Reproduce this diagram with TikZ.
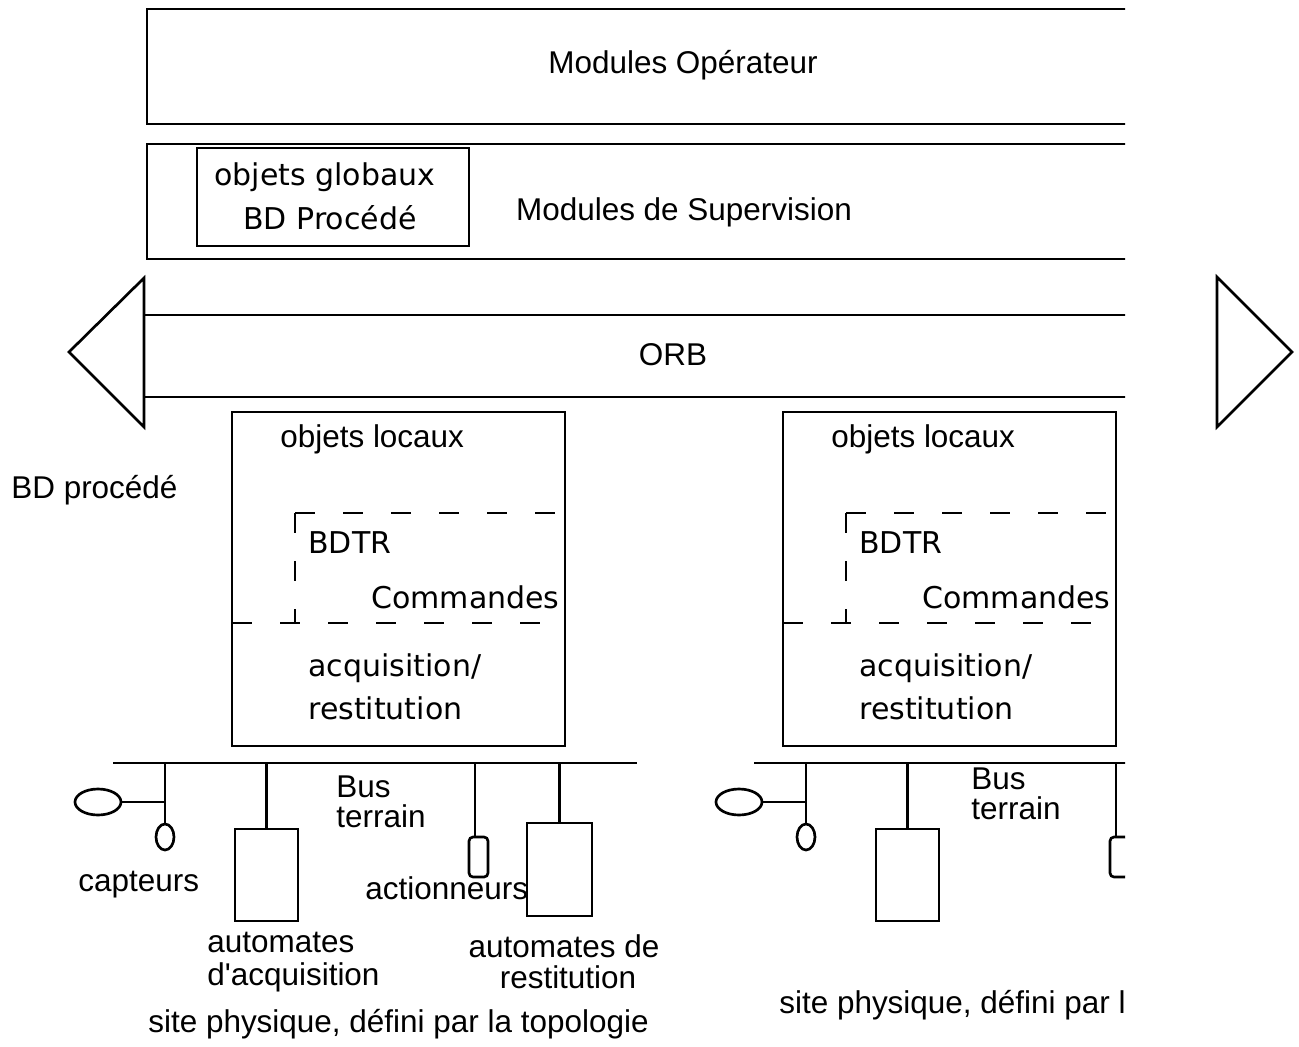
\documentclass[tikz,border=0pt]{standalone}
\usepackage{fontspec}
\setmainfont{Liberation Sans}
\newfontfamily\genfont{DejaVu Sans}
\usetikzlibrary{shapes.geometric}
\begin{document}
\begin{tikzpicture}[x=0.75pt,y=-0.75pt,line width=2pt,
  ar/.style={font=\fontsize{23.6}{28}\selectfont, inner sep=0pt},
  gv/.style={font=\genfont\fontsize{22.5}{28}\selectfont, inner sep=0pt},
  dsh/.style={dash pattern=on 15pt off 21pt},
  sens/.style={draw, ellipse, inner sep=0pt},
  dev/.style={draw, rectangle, inner sep=0pt}]
\useasboundingbox (0,0) rectangle (1299,1046);
\begin{scope}
\clip (0,0) rectangle (1125,1046);
% Modules Operateur
\draw (147,9) rectangle (1140,124);
\node[ar, anchor=base] (op) at (683,73) {Modules Opérateur};
% Supervision
\draw (147,144) rectangle (1140,259);
\draw (197,148) rectangle (469,246);
\node[gv,anchor=base] (og) at (325,185) {objets globaux};
\node[gv,anchor=base] (bdp) at (330,229) {BD Procédé};
\node[ar,anchor=base] (sup) at (684,220) {Modules de Supervision};
% ORB
\draw (144,315) -- (1140,315) (144,397) -- (1140,397);
\draw[line join=miter] (144,278) -- (69,352) -- (144,427) -- cycle;
\node[ar,anchor=base] (orb) at (673,365) {ORB};
% sites
\foreach \n/\bx/\sx/\bu/\by/\tx/\ty in {L/0/0/335/0/147/1032, R/551/641/970/-8/778/1013} {
  \draw (232+\bx,412) rectangle (565+\bx,746);
  \node[ar,anchor=base west] (ol\n) at (279+\bx,447) {objets locaux};
  \coordinate (dc\n) at (295+\bx,513);
  \draw[dsh] (dc\n) -- ++(0,110);
  \draw[dsh] (dc\n) -- ++(260,0);
  \draw[dsh] (232+\bx,623) -- ++(313,0);
  \node[gv,anchor=base west] (bdtr\n) at (307+\bx,553) {BDTR};
  \node[gv,anchor=base west] (cmd\n) at (370+\bx,608) {Commandes};
  \node[gv,anchor=base west] (acq\n) at (307+\bx,676) {acquisition/};
  \node[gv,anchor=base west] (rest\n) at (307+\bx,719) {restitution};
  % bus
  \coordinate (busA\n) at (113+\sx,763);
  \coordinate (busB\n) at (637+\sx,763);
  \draw (busA\n) -- (busB\n);
  \node[ar,anchor=base west] (bus1\n) at (\bu,797+\by) {Bus};
  \node[ar,anchor=base west] (bus2\n) at (\bu,827+\by) {terrain};
  % capteurs
  \node[sens, minimum width=34.5pt, minimum height=19.5pt] (capA\n) at (98+\sx,802) {};
  \node[sens, minimum width=13.5pt, minimum height=19.5pt] (capB\n) at (165+\sx,837) {};
  \coordinate (tc\n) at (165+\sx,763);
  \draw (tc\n) -- (capB\n.north);
  \draw (capA\n.east) -- (capA\n.east -| tc\n);
  % automates d'acquisition
  \node[dev, minimum width=47.25pt, minimum height=69pt] (autA\n) at (266.5+\sx,875) {};
  \draw (autA\n.north) -- (autA\n.north |- tc\n);
  % actionneurs
  \node[dev, rounded corners=3pt, minimum width=14.25pt, minimum height=30pt] (act\n) at (478.5+\sx,857) {};
  \coordinate (ta\n) at (475+\sx,763);
  \draw (ta\n) -- (ta\n |- act\n.north);
  % automates de restitution
  \node[dev, minimum width=48.75pt, minimum height=69.75pt] (autB\n) at (559.5+\sx,869.5) {};
  \draw (autB\n.north) -- (autB\n.north |- tc\n);
  \node[ar,anchor=base west] (site\n) at (\tx,\ty) {site physique, défini par la topologie};
}
% labels of the left site
\node[ar,anchor=base west] (bdproc) at (10,498) {BD procédé};
\node[ar,anchor=base west] (capt) at (77,891) {capteurs};
\node[ar,anchor=base west] (actl) at (364,899) {actionneurs};
\node[ar,anchor=base west] (autl1) at (206,952) {automates};
\node[ar,anchor=base west] (autl2) at (206,985) {d\textquotesingle acquisition};
\node[ar,anchor=base] (resl1) at (564,957) {automates de};
\node[ar,anchor=base] (resl2) at (568,988) {restitution};
\end{scope}
\draw[line join=miter] (1217,277) -- (1292,352) -- (1217,427) -- cycle;
\end{tikzpicture}
\end{document}
